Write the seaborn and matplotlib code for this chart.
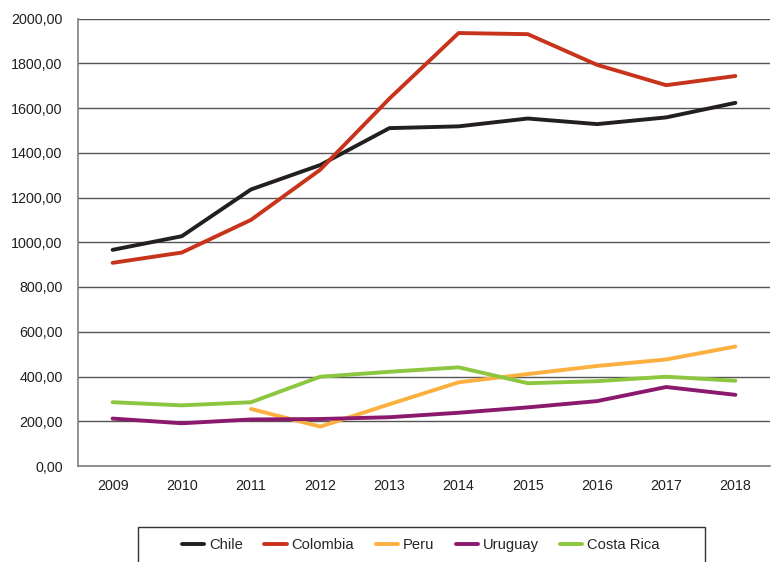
import numpy as np
import pandas as pd
import seaborn as sns
import matplotlib.pyplot as plt
from matplotlib.patches import Rectangle
from matplotlib.ticker import FixedLocator, FuncFormatter

years = [2009, 2010, 2011, 2012, 2013, 2014, 2015, 2016, 2017, 2018]
chile = [966, 1027, 1236, 1345, 1510, 1518, 1553, 1528, 1558, 1623]
colombia = [908, 954, 1100, 1324, 1642, 1935, 1930, 1793, 1702, 1743]
peru = [np.nan, np.nan, 255, 176, 276, 374, 411, 447, 476, 534]
uruguay = [212, 191, 208, 210, 218, 238, 262, 290, 353, 318]
costa_rica = [285, 271, 285, 399, 421, 441, 370, 379, 399, 381]

countries = ['Chile', 'Colombia', 'Peru', 'Uruguay', 'Costa Rica']
colors = ['#231f20', '#c8331c', '#fbb040', '#8b1a6e', '#8dc63f']

df = pd.DataFrame({'Year': years, 'Chile': chile, 'Colombia': colombia,
                   'Peru': peru, 'Uruguay': uruguay, 'Costa Rica': costa_rica})
long = df.melt(id_vars='Year', var_name='País', value_name='Valor').dropna()

sns.set_style('white')
plt.rcParams['font.family'] = ['Liberation Sans', 'DejaVu Sans']

fig = plt.figure(figsize=(7.81, 5.62), dpi=100)
ax = fig.add_axes([78 / 781, 1 - 466 / 562, 692 / 781, 447.5 / 562])

sns.lineplot(data=long, x='Year', y='Valor', hue='País', hue_order=countries,
             palette=colors, linewidth=2.8, ax=ax, legend=True)

ax.set_xlim(2008.5, 2018.5)
ax.set_ylim(0, 2000)
ax.set_yticks(range(0, 2001, 200))
ax.yaxis.set_major_formatter(FuncFormatter(lambda v, p: f'{v:.2f}'.replace('.', ',')))
ax.grid(True, axis='y', color='#555555', linewidth=1)
ax.set_axisbelow(True)

# etiquetas de año al centro, marcas entre categorías
ax.xaxis.set_major_locator(FixedLocator(np.arange(2008.5, 2019, 1)))
ax.xaxis.set_minor_locator(FixedLocator(years))
ax.set_xticklabels([])
ax.set_xticklabels([str(y) for y in years], minor=True)
ax.tick_params(axis='x', which='major', length=4, width=1, color='#808080', direction='out')
ax.tick_params(axis='x', which='minor', length=0, labelsize=10.3, pad=9, colors='#231f20')
ax.tick_params(axis='y', length=4, width=1, color='#808080', labelsize=10.3, pad=7, labelcolor='#231f20')
ax.set_xlabel('')
ax.set_ylabel('')

for s in ['top', 'right']:
    ax.spines[s].set_visible(False)
for s in ['left', 'bottom']:
    ax.spines[s].set_color('#808080')
    ax.spines[s].set_linewidth(1.2)

handles, labels = ax.get_legend_handles_labels()
ax.get_legend().remove()
fig.legend(handles, labels, loc='center', bbox_to_anchor=(421 / 781, 1 - 545 / 562),
           ncol=5, frameon=False, fontsize=10.6, handlelength=1.5,
           handletextpad=0.35, columnspacing=1.45)
fig.patches.append(Rectangle((138 / 781, -0.02), 567 / 781, 0.02 + (562 - 527) / 562,
                             transform=fig.transFigure, fill=False,
                             edgecolor='#333333', linewidth=1))

fig.savefig('out.png', dpi=100)
